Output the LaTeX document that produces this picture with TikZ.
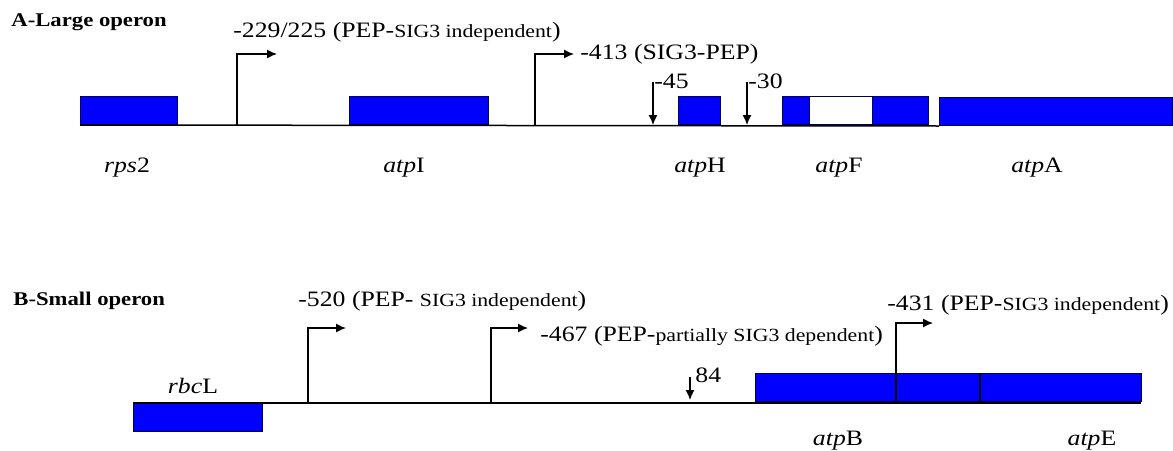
\documentclass[tikz,border=0pt]{standalone}
\usepackage{fontspec}
\setmainfont{Liberation Serif}[FakeStretch=1.17]
\usetikzlibrary{arrows.meta}
\newcommand{\smtxt}[1]{{\fontsize{9.3}{11}\selectfont #1}}
\begin{document}
\begin{tikzpicture}
  [x=0.5pt,y=-0.5pt,
   gene/.style={draw=black!70!blue,fill=blue,line width=0.5pt,inner sep=0,minimum height=14pt},
   prom/.style={line width=0.65pt,-{Latex[length=5pt,width=4.5pt]}},
   lbl/.style={inner sep=0,anchor=base west,font=\fontsize{11}{13}\selectfont},
   gname/.style={inner sep=0,anchor=base,font=\fontsize{11}{13}\selectfont},
   title/.style={inner sep=0,anchor=base west,font=\fontsize{9.7}{12}\selectfont\bfseries}]
\useasboundingbox (0,0) rectangle (1173,450);

% A - large operon
\node (tA)[title] at (11,26) {A-Large operon};
\node (rps)[gene,anchor=south west,minimum width=48.5pt] at (80,125) {};
\node (atpI)[gene,anchor=south west,minimum width=69.5pt] at (349,125) {};
\node (atpH)[gene,anchor=south west,minimum width=21pt] at (678,125) {};
\node (atpFa)[gene,anchor=south west,minimum width=13.5pt] at (782,125) {};
\node (atpFw)[gene,fill=white,anchor=south west,minimum width=31.5pt] at (809,125) {};
\node (atpFb)[gene,anchor=south west,minimum width=28pt] at (872,125) {};
\node (atpA)[gene,anchor=south west,minimum width=116.5pt] at (939,126) {};
\draw[line width=0.75pt] (rps.south west) -- (atpA.south west);

\coordinate (pA1) at (237,125);  \coordinate (pA1t) at (277,54);
\coordinate (pA2) at (535,125);  \coordinate (pA2t) at (574,54);
\draw[prom] (pA1) |- (pA1t);
\draw[prom] (pA2) |- (pA2t);
\node (lA1)[lbl] at (233,37) {-229/225 (PEP-\smtxt{SIG3 independent})};
\node (lA2)[lbl] at (580,59) {-413 (SIG3-PEP)};

\coordinate (mA1) at (653,82);  \coordinate (mA1b) at (653,125);
\coordinate (mA2) at (747,82);  \coordinate (mA2b) at (747,125);
\draw[prom] (mA1) -- (mA1b);
\draw[prom] (mA2) -- (mA2b);
\node (l45)[lbl] at (654,88) {-45};
\node (l30)[lbl] at (748,88) {-30};

\node (nrps)[gname] at (127,172) {\textit{rps}2};
\node (natpI)[gname] at (404,172) {\textit{atp}I};
\node (natpH)[gname] at (700,172) {\textit{atp}H};
\node (natpF)[gname] at (839,172) {\textit{atp}F};
\node (natpA)[gname] at (1037,172) {\textit{atp}A};

% B - small operon
\node (tB)[title] at (13,305) {B-Small operon};
\node (rbcL)[gene,anchor=north west,minimum width=64.5pt] at (133,403) {};
\node (atpBE)[gene,anchor=south west,minimum width=193pt] at (755,402) {};
\coordinate (bEnd) at (1141,403);
\draw[line width=0.75pt] (rbcL.north west) -- (bEnd);
\coordinate (div) at (980,374);
\draw[line width=0.6pt] (div) -- (div |- atpBE.south);

\coordinate (pB1) at (308,403);  \coordinate (pB1t) at (346,328);
\coordinate (pB2) at (491,403);  \coordinate (pB2t) at (528,328);
\coordinate (pB3) at (896,402);  \coordinate (pB3t) at (933,323);
\draw[prom] (pB1) |- (pB1t);
\draw[prom] (pB2) |- (pB2t);
\draw[prom] (pB3) |- (pB3t);
\node (lB1)[lbl] at (298,306) {-520 (PEP- \smtxt{SIG3 independent})};
\node (lB2)[lbl] at (540,341) {-467 (PEP-\smtxt{partially SIG3 dependent})};
\node (lB3)[lbl] at (887,310) {-431 (PEP-\smtxt{SIG3 independent})};

\coordinate (mB1) at (690,377);  \coordinate (mB1b) at (690,400);
\draw[prom] (mB1) -- (mB1b);
\node (l84)[lbl] at (695,382) {84};

\node (nrbcL)[gname] at (193,393) {\textit{rbc}L};
\node (natpB)[gname] at (838,445) {\textit{atp}B};
\node (natpE)[gname] at (1092,445) {\textit{atp}E};
\end{tikzpicture}
\end{document}
